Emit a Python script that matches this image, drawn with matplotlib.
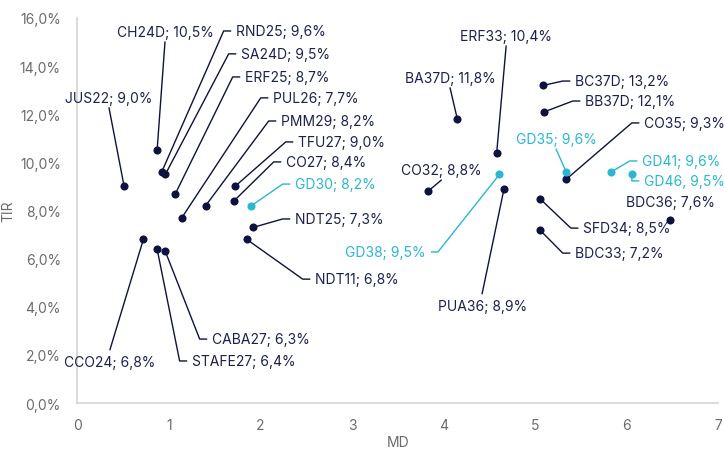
import matplotlib.pyplot as plt
from matplotlib.ticker import FuncFormatter

plt.rcParams['font.family'] = ['Inter', 'DejaVu Sans']

# Datos: bonos, duración modificada (MD) y TIR (%)
nombres = ["JUS22", "CH24D", "RND25", "SA24D", "ERF25", "PUL26", "PMM29", "TFU27",
           "CO27", "GD30", "NDT25", "NDT11", "CCO24", "STAFE27", "CABA27",
           "ERF33", "BA37D", "BC37D", "BB37D", "CO35", "GD35", "GD41", "GD46",
           "BDC36", "CO32", "GD38", "PUA36", "SFD34", "BDC33"]
md = [0.51, 0.87, 0.92, 0.96, 1.07, 1.14, 1.40, 1.72,
      1.71, 1.90, 1.92, 1.85, 0.72, 0.87, 0.96,
      4.58, 4.15, 5.09, 5.10, 5.34, 5.34, 5.83, 6.06,
      6.47, 3.83, 4.61, 4.66, 5.05, 5.05]
tir = [9.0, 10.5, 9.6, 9.5, 8.7, 7.7, 8.2, 9.0,
       8.4, 8.2, 7.3, 6.8, 6.8, 6.4, 6.3,
       10.4, 11.8, 13.2, 12.1, 9.3, 9.6, 9.6, 9.5,
       7.6, 8.8, 9.5, 8.9, 8.5, 7.2]
soberano = ["GD30", "GD35", "GD41", "GD46", "GD38"]
separador = {"GD46": ", "}  # así figura en el original

# Ubicación de etiquetas (x, y, modo): 'l' texto a la derecha del codo,
# 'r' texto a la izquierda, 'b' línea debajo del texto, 'a' línea arriba, 'n' sin línea
etiquetas = {
    "JUS22": (0.345, 12.68, "b"), "CH24D": (0.956, 15.42, "b"),
    "RND25": (1.732, 15.46, "l"), "SA24D": (1.787, 14.51, "l"),
    "ERF25": (1.831, 13.55, "l"), "PUL26": (2.137, 12.68, "l"),
    "PMM29": (2.224, 11.72, "l"), "TFU27": (2.410, 10.85, "l"),
    "CO27": (2.279, 10.02, "l"), "GD30": (2.377, 9.10, "l"),
    "NDT25": (2.377, 7.65, "l"), "NDT11": (2.596, 5.15, "l"),
    "CCO24": (0.355, 1.70, "a"), "STAFE27": (1.251, 1.75, "l"),
    "CABA27": (1.470, 2.66, "l"), "ERF33": (4.683, 15.25, "b"),
    "BA37D": (4.071, 13.51, "b"), "BC37D": (5.437, 13.38, "l"),
    "BB37D": (5.546, 12.55, "l"), "CO35": (6.191, 11.64, "l"),
    "GD35": (5.229, 10.97, "b"), "GD41": (6.169, 10.06, "l"),
    "GD46": (6.191, 9.23, "l"), "BDC36": (6.475, 8.35, "n"),
    "CO32": (3.973, 9.68, "b"), "GD38": (3.798, 6.28, "r"),
    "PUA36": (4.421, 4.03, "a"), "SFD34": (5.525, 7.27, "l"),
    "BDC33": (5.437, 6.23, "l"),
}

NAVY = "#0d1240"
TEXTO = "#1c2150"
CIAN = "#2ab7d3"
GRIS = "#6b6b6b"

fig = plt.figure(figsize=(7.24, 4.52), dpi=100)
ax = fig.add_axes([0.107, 0.106, 0.885, 0.852])

for n, x, y in zip(nombres, md, tir):
    es_sob = n in soberano
    c_pt = CIAN if es_sob else NAVY
    c_tx = CIAN if es_sob else TEXTO
    tx, ty, modo = etiquetas[n]
    sep = separador.get(n, "; ")
    txt = f"{n}{sep}{y:.1f}%".replace(".", ",")
    if modo == "l":
        xs = [x, tx - 0.135, tx - 0.06]
        ys = [y, ty, ty]
        ha = "left"
    elif modo == "r":
        xs = [x, tx + 0.14, tx + 0.07]
        ys = [y, ty, ty]
        ha = "right"
    elif modo == "b":
        xs = [x, tx]
        ys = [y, ty - 0.42]
        ha = "center"
    elif modo == "a":
        xs = [x, tx]
        ys = [y, ty + 0.52]
        ha = "center"
    else:
        xs, ys = [], []
        ha = "center"
    if xs:
        ax.plot(xs, ys, color=c_pt, lw=1.0, zorder=2, clip_on=False)
    ax.scatter([x], [y], s=34, color=c_pt, zorder=3, clip_on=False, linewidths=0)
    ax.text(tx, ty, txt, ha=ha, va="center", fontsize=10, color=c_tx, clip_on=False)

ax.set_xlim(0, 7)
ax.set_ylim(0, 16)
ax.set_yticks(range(0, 17, 2))
ax.yaxis.set_major_formatter(FuncFormatter(lambda v, p: f"{v:.1f}%".replace(".", ",")))
ax.tick_params(length=0, labelsize=10, labelcolor=GRIS, pad=12)
ax.tick_params(axis="x", pad=11)
for s in ["top", "right"]:
    ax.spines[s].set_visible(False)
for s in ["left", "bottom"]:
    ax.spines[s].set_color("#d4d4d4")
    ax.spines[s].set_linewidth(1.2)
ax.set_xlabel("MD", fontsize=10, color=GRIS, labelpad=2)
ax.set_ylabel("TIR", fontsize=10, color=GRIS, labelpad=3)

fig.savefig("out.png", dpi=100)
